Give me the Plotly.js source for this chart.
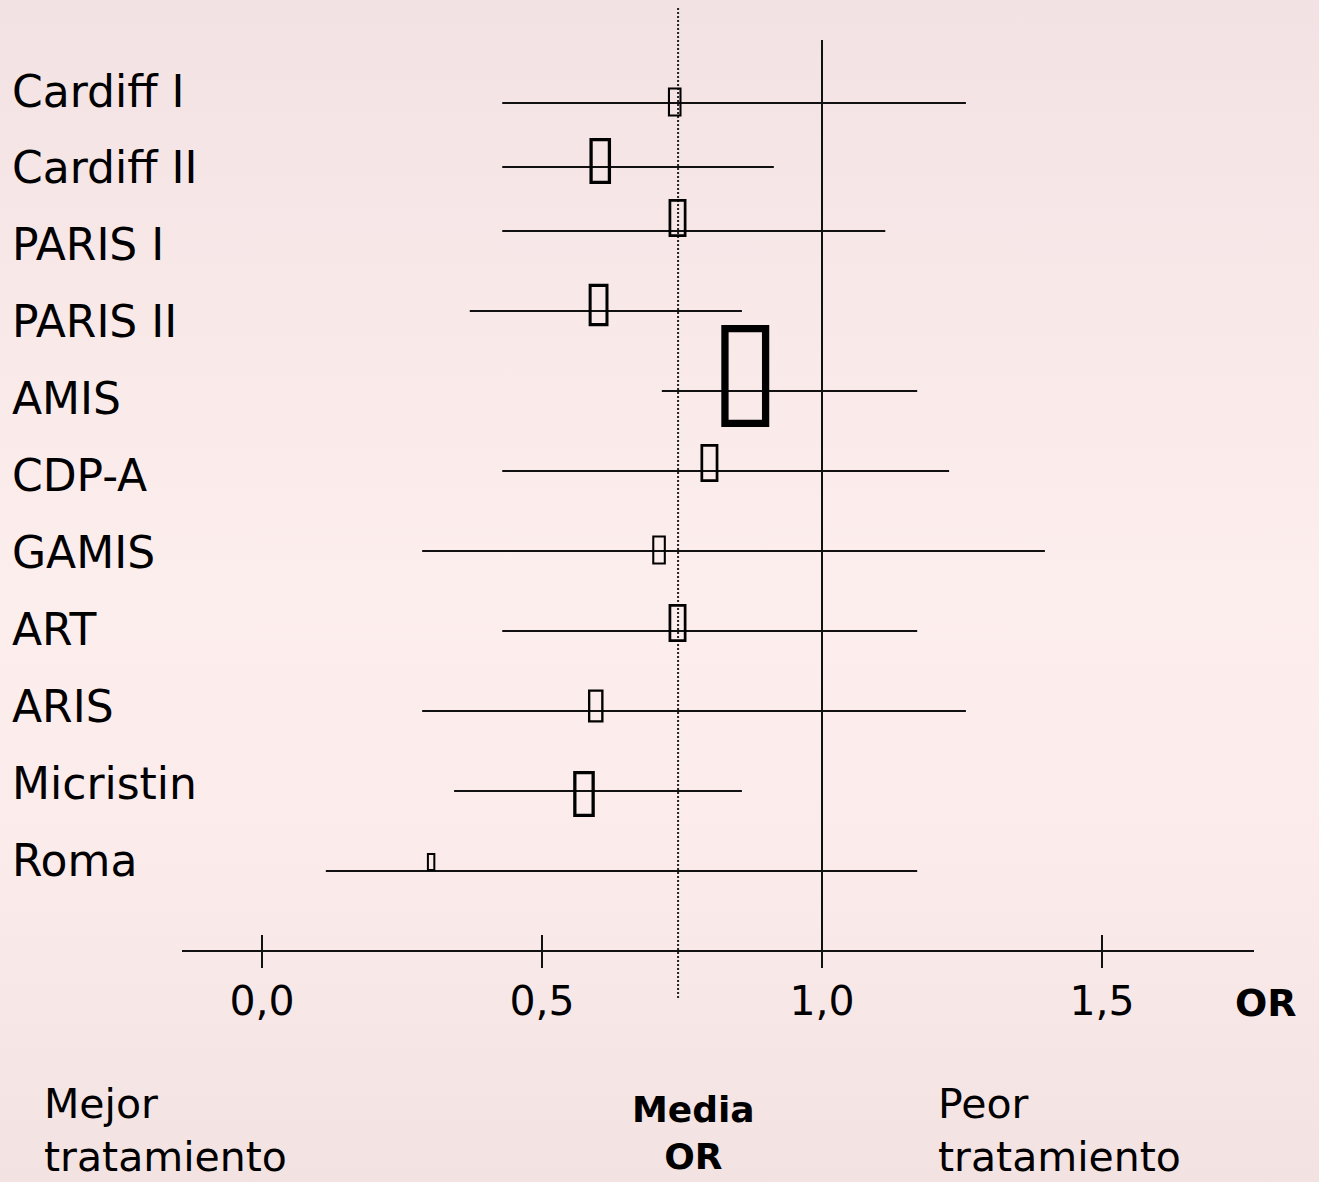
<!DOCTYPE html>
<html>
<head>
<meta charset="utf-8">
<script src="https://cdn.plot.ly/plotly-3.0.1.min.js"></script>
<style>
  html, body { margin:0; padding:0; }
  body {
    width:1319px; height:1182px; overflow:hidden;
    background: linear-gradient(to bottom, #f2e2e3 0%, #f8e8e8 25%, #fdeeee 50%, #fbebeb 72%, #f2e2e2 100%);
  }
  #chart { width:1319px; height:1182px; }
</style>
</head>
<body>
<div id="chart"></div>
<script>
// ---- data ----
const studies   = ['Cardiff I','Cardiff II','PARIS I','PARIS II','AMIS','CDP-A','GAMIS','ART','ARIS','Micristin','Roma'];
const orValue   = [0.737, 0.604, 0.742, 0.601, 0.863, 0.799, 0.709, 0.742, 0.596, 0.575, 0.302];
const ciLow     = [0.429, 0.429, 0.429, 0.371, 0.714, 0.429, 0.286, 0.429, 0.286, 0.343, 0.114];
const ciHigh    = [1.257, 0.914, 1.113, 0.857, 1.170, 1.227, 1.398, 1.170, 1.257, 0.857, 1.170];
const weightPct = [6.3, 10.0, 8.3, 9.2, 22.2, 8.3, 6.3, 8.3, 7.2, 10.0, 3.9];
const meanOR    = 0.743;
const nullOR    = 1.0;
const tickVals  = [0, 0.5, 1, 1.5];
const tickText  = ['0,0', '0,5', '1,0', '1,5'];

// ---- layout helpers (positions, not data) ----
const W = 1319, H = 1182;
const rowLineY  = [103, 167, 231, 311, 391, 471, 551, 631, 711, 791, 871];
const boxShiftY = [-1, -6, -13, -6, -15, -8, -1, -8, -5, 3, -9];
const labelY0 = 91, labelStep = 76.9;
const axisY = 951;
const FONT = 'DejaVu Sans';
const INK = '#111111';

// CI lines
const lx = [], ly = [];
studies.forEach((s, i) => {
  lx.push(ciLow[i], ciHigh[i], null);
  ly.push(rowLineY[i], rowLineY[i], null);
});

const traces = [
  { type:'scatter', mode:'lines', x:lx, y:ly, xaxis:'x', yaxis:'y',
    line:{color:INK, width:2}, hoverinfo:'skip', showlegend:false },
  { type:'scatter', mode:'markers', x:tickVals, y:tickVals.map(()=>axisY), xaxis:'x2', yaxis:'y',
    marker:{opacity:0}, hoverinfo:'skip', showlegend:false }
];

const shapes = [];
// reference line OR = 1
shapes.push({ type:'line', xref:'x', yref:'y', x0:nullOR, x1:nullOR, y0:40, y1:axisY+16,
  line:{color:INK, width:2} });
// mean OR dotted
shapes.push({ type:'line', xref:'x', yref:'y', x0:meanOR, x1:meanOR, y0:8, y1:1000,
  line:{color:'#222', width:2, dash:'2px,2px'} });
// study boxes (size from weight)
const maxW = Math.max(...weightPct);
studies.forEach((s, i) => {
  const hOut = 102 * weightPct[i] / maxW;
  const wOut = hOut * 0.47;
  const lw = Math.max(2, hOut / 14);
  const h = hOut - lw, w = wOut - lw;
  shapes.push({
    type:'rect', xref:'x', yref:'y',
    xsizemode:'pixel', xanchor:orValue[i], x0:-w/2, x1:w/2,
    ysizemode:'pixel', yanchor:rowLineY[i] + boxShiftY[i], y0:-h/2, y1:h/2,
    fillcolor:'rgba(0,0,0,0)', line:{color:'#000', width:lw}, layer:'above'
  });
});

const annotations = [];
studies.forEach((s, i) => {
  annotations.push({ text:s, xref:'paper', yref:'y', x:10/W, y:labelY0 + labelStep*i,
    xanchor:'left', yanchor:'middle', showarrow:false,
    font:{family:FONT, size:44, color:'#000'} });
});
annotations.push({ text:'<b>OR</b>', xref:'paper', yref:'y', x:1266/W, y:1003,
  xanchor:'center', yanchor:'middle', showarrow:false, font:{family:FONT, size:38, color:'#000'} });
annotations.push({ text:'Mejor<br>tratamiento', xref:'paper', yref:'y', x:42/W, y:1130,
  xanchor:'left', yanchor:'middle', align:'left', showarrow:false,
  font:{family:FONT, size:41, color:'#000'} });
annotations.push({ text:'Peor<br>tratamiento', xref:'paper', yref:'y', x:936/W, y:1130,
  xanchor:'left', yanchor:'middle', align:'left', showarrow:false,
  font:{family:FONT, size:41, color:'#000'} });
annotations.push({ text:'<b>Media</b><br><b>OR</b>', xref:'paper', yref:'y', x:693/W, y:1133,
  xanchor:'center', yanchor:'middle', align:'center', showarrow:false,
  font:{family:FONT, size:36, color:'#000'} });

const xDomain = [182/W, 1254/W];
const xRange = [-80/560, 992/560];
const axisPos = 1 - axisY / H;

const layout = {
  width:W, height:H, autosize:false,
  margin:{l:0, r:0, t:0, b:0, pad:0},
  paper_bgcolor:'rgba(0,0,0,0)', plot_bgcolor:'rgba(0,0,0,0)',
  showlegend:false,
  xaxis:{ domain:xDomain, range:xRange, anchor:'free', position:axisPos,
    showline:true, linecolor:INK, linewidth:2, showgrid:false, zeroline:false,
    ticks:'outside', ticklen:16, tickwidth:2, tickcolor:INK,
    tickmode:'array', tickvals:tickVals, ticktext:tickText,
    tickfont:{family:FONT, size:41, color:'#000'}, ticklabelstandoff:-2, fixedrange:true },
  xaxis2:{ domain:xDomain, range:xRange, anchor:'free', position:axisPos, overlaying:'x',
    showline:false, showgrid:false, zeroline:false,
    ticks:'inside', ticklen:16, tickwidth:2, tickcolor:INK,
    tickmode:'array', tickvals:tickVals, showticklabels:false, fixedrange:true },
  yaxis:{ domain:[0,1], range:[H, 0], visible:false, fixedrange:true },
  shapes:shapes,
  annotations:annotations
};

Plotly.newPlot('chart', traces, layout, {displayModeBar:false, staticPlot:true});
</script>
</body>
</html>
